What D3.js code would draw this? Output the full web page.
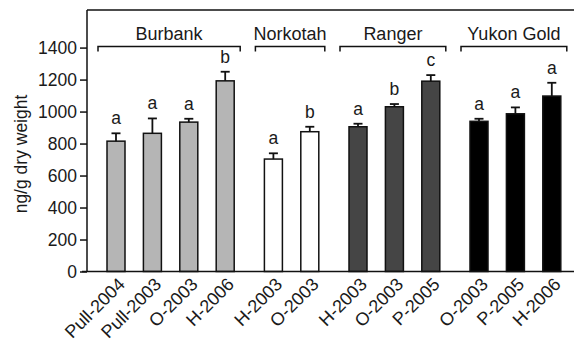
<!DOCTYPE html>
<html>
<head>
<meta charset="utf-8">
<script src="https://cdn.jsdelivr.net/npm/d3@7"></script>
<style>
  body { margin: 0; background: #fff; }
  svg text { font-family: Arial, "Liberation Sans", sans-serif; fill: #1a1a1a; }
</style>
</head>
<body>
<svg id="chart" width="574" height="343"></svg>
<script>
// data
const groups = ['Burbank', 'Norkotah', 'Ranger', 'Yukon Gold'];
const groupColors = ['#b5b5b5', '#ffffff', '#454545', '#000000'];
const samples = ['Pull-2004', 'Pull-2003', 'O-2003', 'H-2006', 'H-2003', 'O-2003',
    'H-2003', 'O-2003', 'P-2005', 'O-2003', 'P-2005', 'H-2006'];
const sampleGroup = [0, 0, 0, 0, 1, 1, 2, 2, 2, 3, 3, 3];
const means = [815, 864, 934, 1192, 703, 874, 905, 1030, 1190, 939, 986, 1097];
const errors = [49, 93, 21, 57, 36, 31, 19, 17, 38, 16, 40, 83];
const letters = ['a', 'a', 'a', 'b', 'a', 'b', 'a', 'b', 'c', 'a', 'a', 'a'];
const yTicks = [0, 200, 400, 600, 800, 1000, 1200, 1400];

const svg = d3.select('#chart');
const m = {left: 87, right: 574, top: 10, bottom: 271.5};
const step = 36.4, groupGap = 11.8, first = 116, barWidth = 18;

const y = d3.scaleLinear().domain([0, 1635]).range([m.bottom, m.top]);
// bar slot index plus extra gap between groups
const x = d3.scaleLinear().domain([0, 1]).range([first, first + step]);
const cx = i => x(i + sampleGroup[i] * groupGap / step);

// frame: top line
svg.append('line').attr('x1', m.left).attr('x2', m.right)
    .attr('y1', m.top).attr('y2', m.top)
    .attr('stroke', '#111').attr('stroke-width', 1.5);

const yAxis = d3.axisLeft(y).tickValues(yTicks).tickFormat(d3.format('d'))
    .tickSize(7).tickPadding(3);
const gy = svg.append('g').attr('transform', `translate(${m.left},0)`).call(yAxis);
gy.select('.domain').attr('d', `M0,${m.top}V${m.bottom}`).attr('stroke', '#111').attr('stroke-width', 1.5);
gy.selectAll('.tick line').attr('stroke', '#111').attr('stroke-width', 1.5);
gy.selectAll('.tick text').style('font-size', '17.5px').style('fill', '#1a1a1a')
    .style('font-family', 'Arial, "Liberation Sans", sans-serif');

svg.append('text')
    .attr('transform', `translate(27,154) rotate(-90)`)
    .attr('text-anchor', 'middle')
    .style('font-size', '17.5px')
    .text('ng/g dry weight');

// bars
svg.append('g').selectAll('rect').data(means).join('rect')
    .attr('x', (d, i) => cx(i) - barWidth / 2)
    .attr('y', d => y(d))
    .attr('width', barWidth)
    .attr('height', d => m.bottom - y(d))
    .attr('fill', (d, i) => groupColors[sampleGroup[i]])
    .attr('stroke', '#111').attr('stroke-width', 1.5);

// error bars (upper only)
const eb = svg.append('g').attr('stroke', '#111').attr('stroke-width', 1.8);
means.forEach((v, i) => {
  eb.append('line').attr('x1', cx(i)).attr('x2', cx(i))
      .attr('y1', y(v)).attr('y2', y(v + errors[i]));
  eb.append('line').attr('x1', cx(i) - 4.5).attr('x2', cx(i) + 4.5)
      .attr('y1', y(v + errors[i])).attr('y2', y(v + errors[i]));
});

// significance letters
svg.append('g').selectAll('text').data(letters).join('text')
    .attr('x', (d, i) => cx(i))
    .attr('y', (d, i) => y(means[i] + errors[i]) - 9)
    .attr('text-anchor', 'middle')
    .style('font-size', '17.5px')
    .text(d => d);

// x axis baseline
svg.append('line').attr('x1', m.left - 5).attr('x2', m.right)
    .attr('y1', m.bottom).attr('y2', m.bottom)
    .attr('stroke', '#111').attr('stroke-width', 1.5);

svg.append('g').selectAll('text').data(samples).join('text')
    .attr('transform', (d, i) => `translate(${cx(i) + 10},${m.bottom + 14}) rotate(-45)`)
    .attr('text-anchor', 'end')
    .style('font-size', '18px')
    .text(d => d);

// group brackets
groups.forEach((g, gi) => {
  const idx = d3.range(samples.length).filter(i => sampleGroup[i] === gi);
  const x1 = cx(idx[0]) - 18, x2 = cx(idx[idx.length - 1]) + 15;
  const by = 46.5;
  svg.append('path')
      .attr('d', `M${x1},${by + 5}V${by}H${x2}V${by + 5}`)
      .attr('fill', 'none').attr('stroke', '#111').attr('stroke-width', 1.5);
  svg.append('text').attr('x', (x1 + x2) / 2).attr('y', by - 7)
      .attr('text-anchor', 'middle')
      .style('font-size', '18px')
      .text(g);
});
</script>
</body>
</html>
